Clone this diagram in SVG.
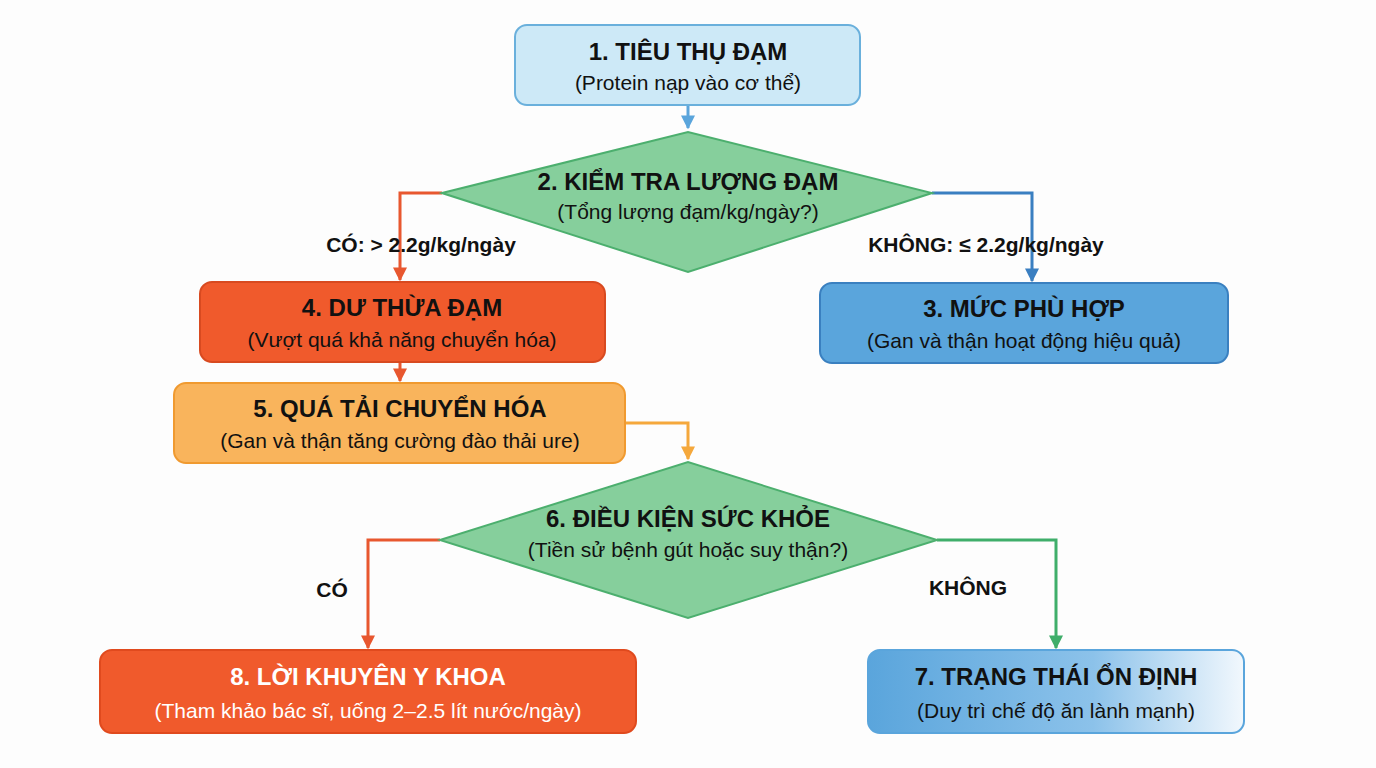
<svg xmlns="http://www.w3.org/2000/svg" width="1376" height="768" viewBox="0 0 1376 768">
<defs>
<linearGradient id="g7" x1="0" y1="0" x2="1" y2="0"><stop offset="0" stop-color="#5aa5dc"/><stop offset="0.6" stop-color="#8cc2ea"/><stop offset="1" stop-color="#f2f8fd"/></linearGradient>
<marker id="aB" markerWidth="10" markerHeight="10" refX="5" refY="8" orient="auto" markerUnits="userSpaceOnUse" viewBox="0 0 10 10"><path d="M0,0 L10,0 L5,10 z" fill="#5aa5dc" transform="rotate(-90 5 5)"/></marker>
<marker id="m-blue" viewBox="0 0 10 10" refX="9" refY="5" markerWidth="14" markerHeight="14" orient="auto" markerUnits="userSpaceOnUse"><path d="M0,0 L10,5 L0,10 z" fill="#3a7fc1"/></marker>
<marker id="m-lblue" viewBox="0 0 10 10" refX="9" refY="5" markerWidth="14" markerHeight="14" orient="auto" markerUnits="userSpaceOnUse"><path d="M0,0 L10,5 L0,10 z" fill="#5aa5dc"/></marker>
<marker id="m-red" viewBox="0 0 10 10" refX="9" refY="5" markerWidth="14" markerHeight="14" orient="auto" markerUnits="userSpaceOnUse"><path d="M0,0 L10,5 L0,10 z" fill="#e8572f"/></marker>
<marker id="m-or" viewBox="0 0 10 10" refX="9" refY="5" markerWidth="14" markerHeight="14" orient="auto" markerUnits="userSpaceOnUse"><path d="M0,0 L10,5 L0,10 z" fill="#f5a83c"/></marker>
<marker id="m-gr" viewBox="0 0 10 10" refX="9" refY="5" markerWidth="14" markerHeight="14" orient="auto" markerUnits="userSpaceOnUse"><path d="M0,0 L10,5 L0,10 z" fill="#3fae6a"/></marker>
</defs>
<style>
text{font-family:"Liberation Sans",Arial,sans-serif;text-anchor:middle;fill:#111}
.t{font-size:24px;font-weight:bold}
.s{font-size:21px}
.l{font-size:21px;font-weight:bold}
.w{fill:#fff}
.c{fill:none;stroke-width:3}
</style>
<rect width="1376" height="768" fill="#fdfdfd"/>
<g id="connectors">
<path class="c" stroke="#5aa5dc" d="M688,105 V128" marker-end="url(#m-lblue)"/>
<path class="c" stroke="#e8572f" d="M442,193 H400 V280" marker-end="url(#m-red)"/>
<path class="c" stroke="#3a7fc1" d="M932,193 H1032 V281" marker-end="url(#m-blue)"/>
<path class="c" stroke="#e8572f" d="M400,362 V381" marker-end="url(#m-red)"/>
<path class="c" stroke="#f5a83c" d="M625,423 H688 V459" marker-end="url(#m-or)"/>
<path class="c" stroke="#e8572f" d="M440,540 H368 V648" marker-end="url(#m-red)"/>
<path class="c" stroke="#3fae6a" d="M937,540 H1056 V648" marker-end="url(#m-gr)"/>
<text class="l" x="421" y="252">CÓ: &gt; 2.2g/kg/ngày</text>
<text class="l" x="986" y="252">KHÔNG: ≤ 2.2g/kg/ngày</text>
<text class="l" x="332" y="597">CÓ</text>
<text class="l" x="968" y="595">KHÔNG</text>
</g>
<g id="n1"><rect x="515" y="25" width="345" height="80" rx="12" fill="#cde9f7" stroke="#6ab0dc" stroke-width="2"/>
<text class="t" x="688" y="60">1. TIÊU THỤ ĐẠM</text><text class="s" x="688" y="90">(Protein nạp vào cơ thể)</text></g>
<g id="n2"><polygon points="442,193 688,132 932,193 688,272" fill="#86cf9c" stroke="#4caf6e" stroke-width="2"/>
<text class="t" x="688" y="190">2. KIỂM TRA LƯỢNG ĐẠM</text><text class="s" x="688" y="219">(Tổng lượng đạm/kg/ngày?)</text></g>
<g id="n4"><rect x="200" y="282" width="405" height="80" rx="12" fill="#f05a2c" stroke="#d84a20" stroke-width="2"/>
<text class="t" x="402" y="316">4. DƯ THỪA ĐẠM</text><text class="s" x="402" y="347">(Vượt quá khả năng chuyển hóa)</text></g>
<g id="n3"><rect x="820" y="283" width="408" height="80" rx="12" fill="#5aa5dc" stroke="#3a80c0" stroke-width="2"/>
<text class="t" x="1024" y="317">3. MỨC PHÙ HỢP</text><text class="s" x="1024" y="348">(Gan và thận hoạt động hiệu quả)</text></g>
<g id="n5"><rect x="174" y="383" width="451" height="80" rx="12" fill="#f9b45c" stroke="#f09a30" stroke-width="2"/>
<text class="t" x="400" y="417">5. QUÁ TẢI CHUYỂN HÓA</text><text class="s" x="400" y="448">(Gan và thận tăng cường đào thải ure)</text></g>
<g id="n6"><polygon points="440,540 688,462 937,540 688,618" fill="#86cf9c" stroke="#4caf6e" stroke-width="2"/>
<text class="t" x="688" y="527">6. ĐIỀU KIỆN SỨC KHỎE</text><text class="s" x="688" y="557">(Tiền sử bệnh gút hoặc suy thận?)</text></g>
<g id="n8"><rect x="100" y="650" width="536" height="83" rx="12" fill="#f05a2c" stroke="#e04a1e" stroke-width="2"/>
<text class="t w" x="368" y="685">8. LỜI KHUYÊN Y KHOA</text><text class="s w" x="368" y="718">(Tham khảo bác sĩ, uống 2–2.5 lít nước/ngày)</text></g>
<g id="n7"><rect x="868" y="650" width="376" height="83" rx="12" fill="url(#g7)" stroke="#5aa5dc" stroke-width="2"/>
<text class="t" x="1056" y="685">7. TRẠNG THÁI ỔN ĐỊNH</text><text class="s" x="1056" y="718">(Duy trì chế độ ăn lành mạnh)</text></g>
</svg>
